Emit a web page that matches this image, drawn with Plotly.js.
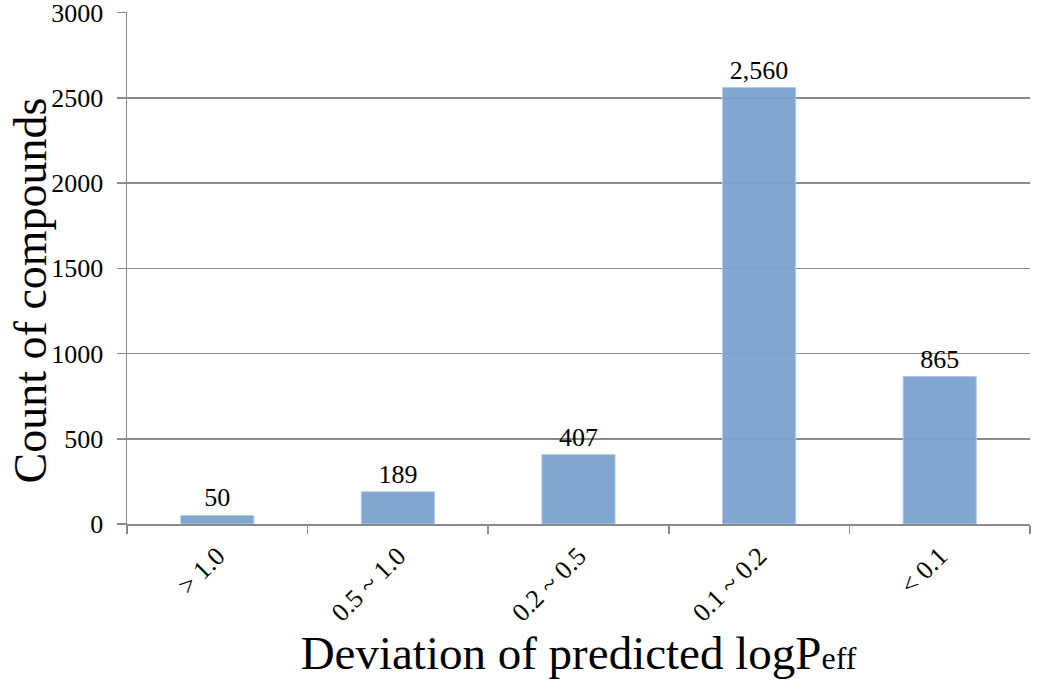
<!DOCTYPE html>
<html>
<head>
<meta charset="utf-8">
<script src="https://cdn.plot.ly/plotly-3.0.1.min.js"></script>
<style>
  html, body { margin: 0; padding: 0; background: #fff; }
  #plot { width: 1050px; height: 690px; }
</style>
</head>
<body>
<div id="plot"></div>
<script>
// Deviation bins of predicted logPeff and compound counts
const categories = ['> 1.0', '0.5 ~ 1.0', '0.2 ~ 0.5', '0.1 ~ 0.2', '< 0.1'];
const counts = [50, 189, 407, 2560, 865];
const yTicks = [0, 500, 1000, 1500, 2000, 2500, 3000];

const serif = '"Liberation Serif", "Times New Roman", serif';

const data = [
    {
        x: categories,
        y: counts,
        type: 'bar',
        width: 0.405,
        marker: {
            color: 'rgba(122,162,207,0.95)',
            line: { color: '#b3cbe6', width: 1 }
        },
        text: counts.map(v => v.toLocaleString('en-US')),
        textposition: 'outside',
        textfont: { family: serif, size: 26, color: '#000' },
        cliponaxis: false,
        hoverinfo: 'x+y'
    }
];

const layout = {
    width: 1050,
    height: 690,
    margin: { l: 127, r: 20, t: 12, b: 166 },
    paper_bgcolor: '#fff',
    plot_bgcolor: '#fff',
    showlegend: false,
    font: { family: serif, color: '#000' },
    xaxis: {
        type: 'category',
        tickangle: -45,
        tickfont: { family: serif, size: 26, color: '#000' },
        ticklabelstandoff: 5,
        showline: true,
        linecolor: '#8a8a8a',
        linewidth: 1.5,
        ticks: 'outside',
        tickson: 'boundaries',
        ticklen: 8,
        tickcolor: '#8a8a8a',
        tickwidth: 1.5,
        showgrid: false,
        zeroline: false,
        title: {
            text: 'Deviation of predicted logP<span style="font-size:32px">eff</span>',
            font: { family: serif, size: 47, color: '#000' },
            standoff: 10
        }
    },
    yaxis: {
        range: [0, 3003],
        tickvals: yTicks,
        ticktext: yTicks.map(String),
        tickfont: { family: serif, size: 26, color: '#000' },
        ticklabeloverflow: 'allow',
        ticklabelstandoff: 8,
        showline: true,
        linecolor: '#8a8a8a',
        linewidth: 1.5,
        ticks: 'outside',
        ticklen: 9,
        tickcolor: '#8a8a8a',
        tickwidth: 1.5,
        showgrid: true,
        gridcolor: '#8a8a8a',
        gridwidth: 1.5,
        zeroline: false
    },
    annotations: [
        {
            // y axis title, sits a little below the plot centre in the original
            text: 'Count of compounds',
            textangle: -90,
            xref: 'paper',
            yref: 'paper',
            x: -0.107,
            y: 0.457,
            xanchor: 'center',
            yanchor: 'middle',
            showarrow: false,
            font: { family: serif, size: 46, color: '#000' }
        }
    ]
};

Plotly.newPlot('plot', data, layout, { displayModeBar: false, staticPlot: true });
</script>
</body>
</html>
